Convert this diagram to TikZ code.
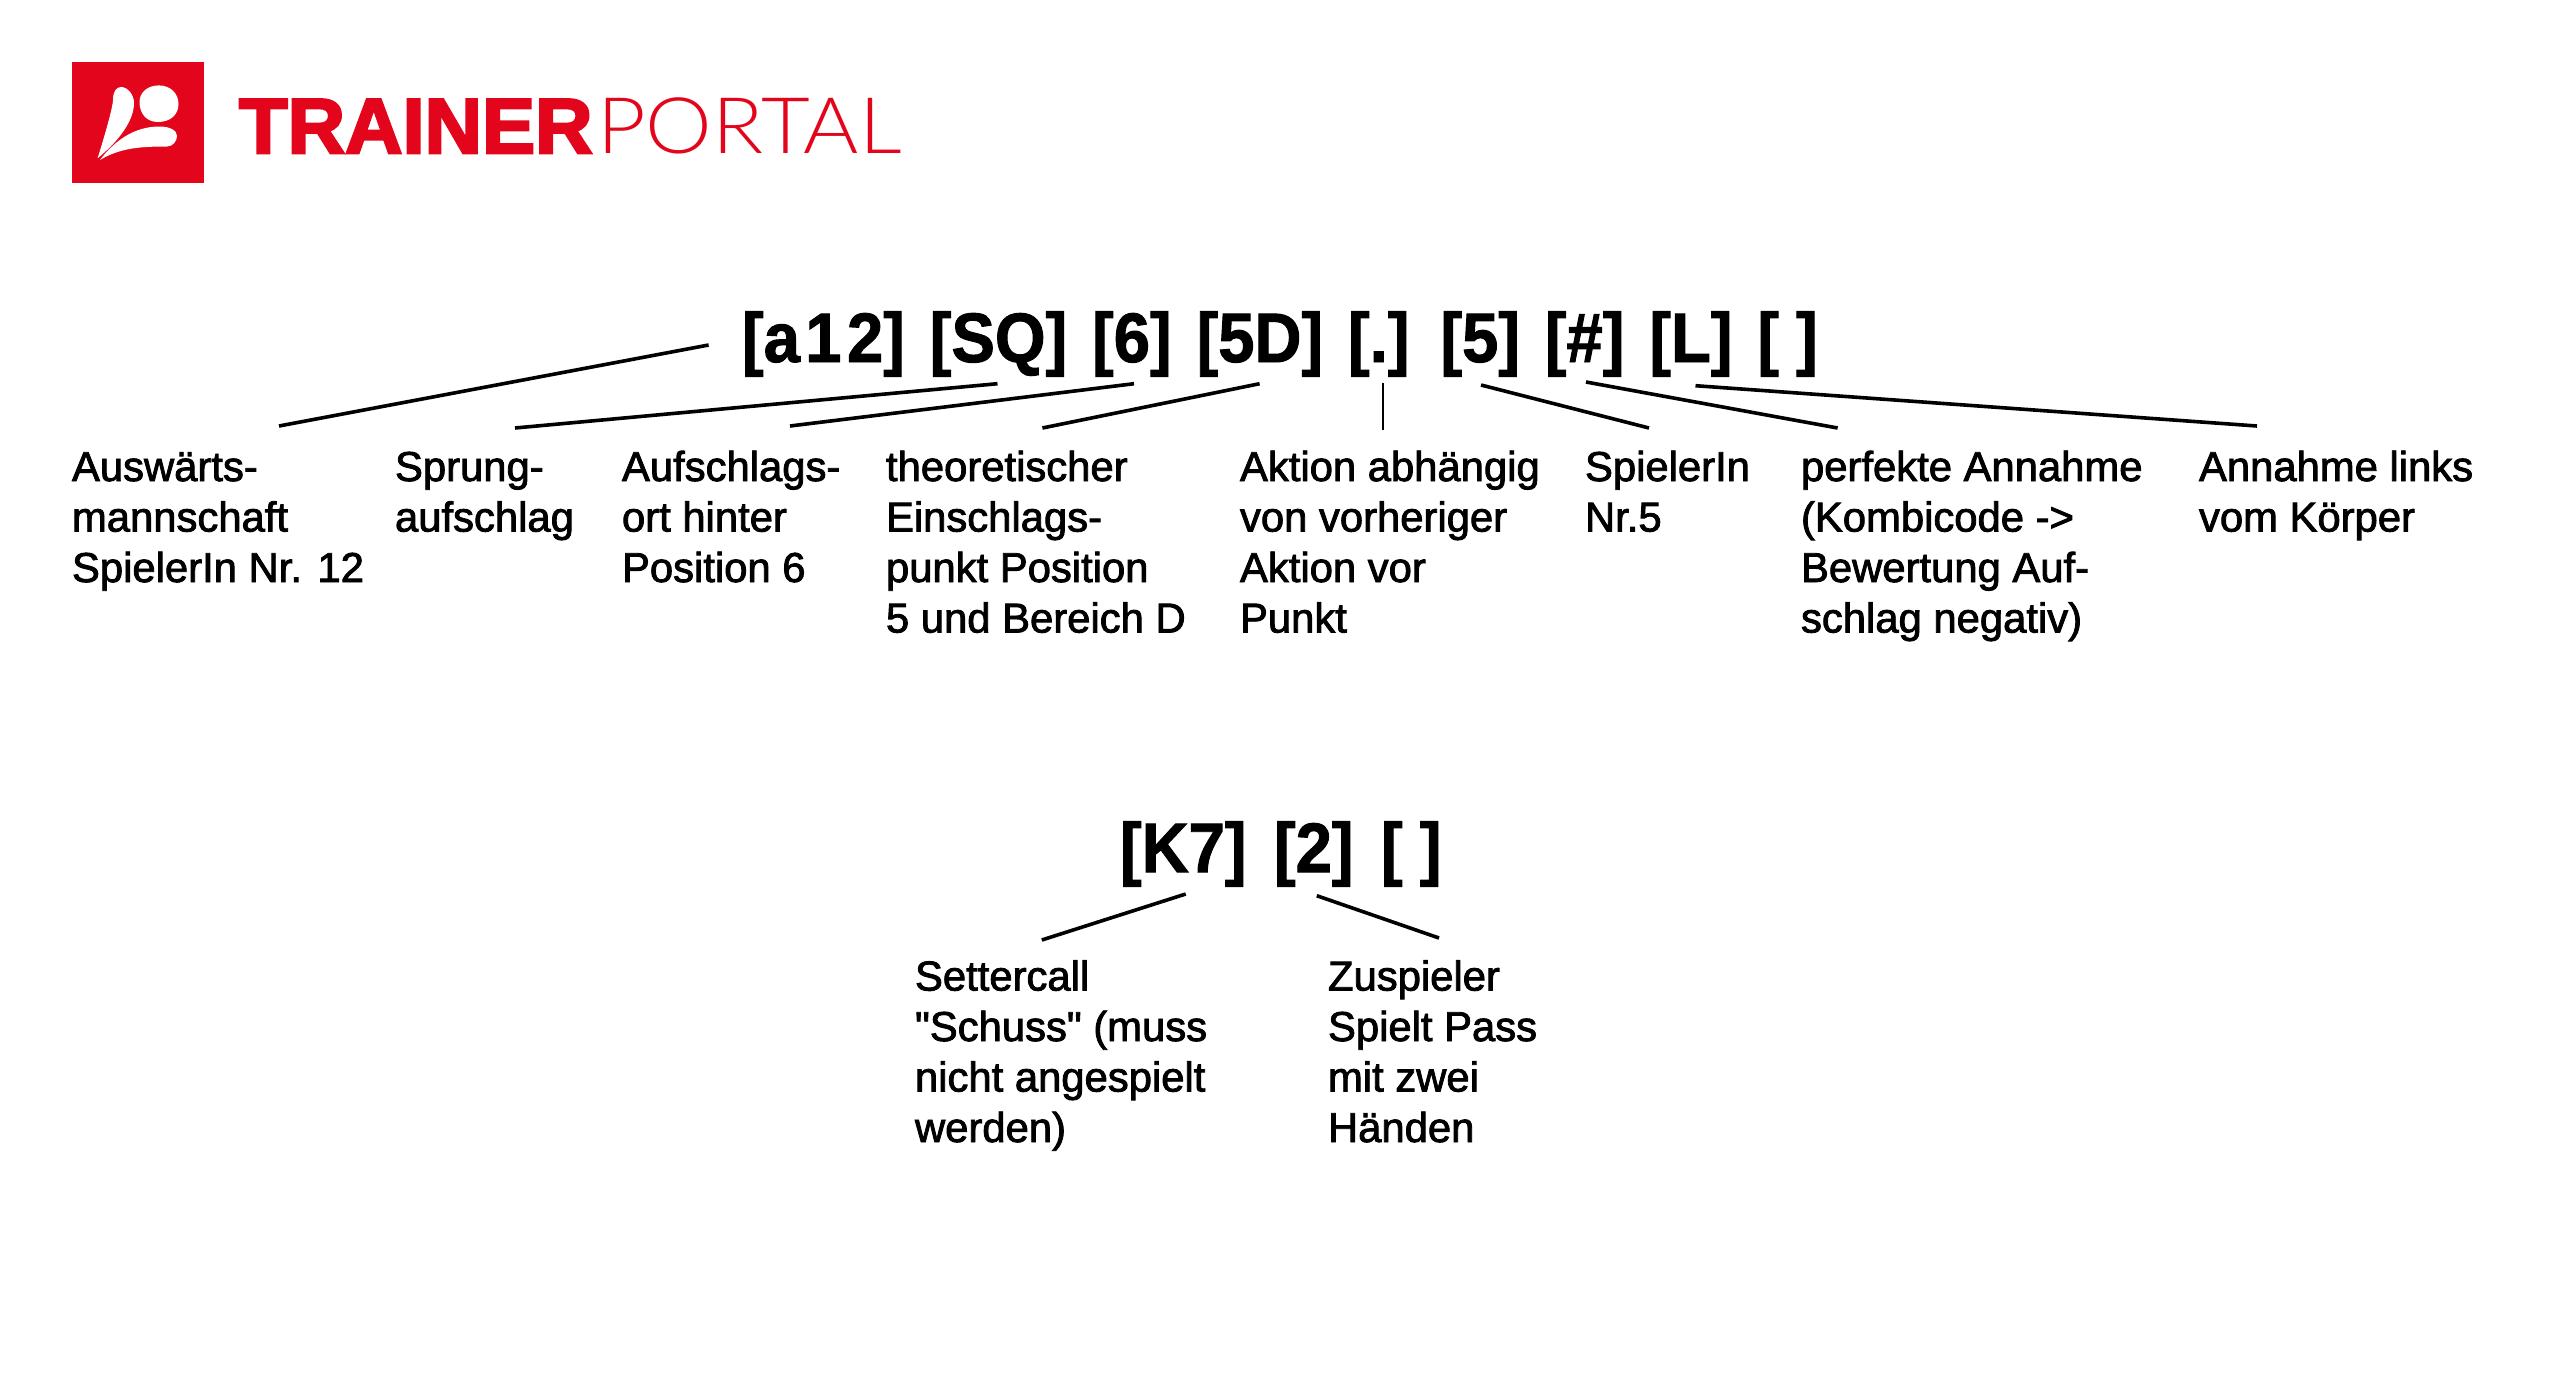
\documentclass[tikz,border=0pt]{standalone}
\usepackage{fontspec}
\setmainfont{Liberation Sans}
\newfontfamily\bodyfont[FakeBold=2.0]{Liberation Sans}
\newfontfamily\headfont[FakeStretch=0.93,FakeBold=1.4]{Liberation Sans Bold}
\newfontfamily\logoheavy[FakeBold=3.2,FakeStretch=1.02]{Liberation Sans Bold}
\newfontfamily\logolight[FakeStretch=1.08]{Lato Light}
\definecolor{brand}{HTML}{E3051B}
\newcommand\lns[1]{\begin{tabular}[t]{@{}l@{}}#1\end{tabular}}
\tikzset{
  lbl/.style={anchor=base west,inner sep=0pt,outer sep=0pt,font=\bodyfont\fontsize{41.8}{50.5}\selectfont,text=black},
  head/.style={anchor=base west,inner sep=0pt,outer sep=0pt,font=\headfont\fontsize{70}{70}\selectfont,text=black},
  lead/.style={draw=black,line width=3.6pt},
  leadthin/.style={draw=black,line width=2pt},
  logotxt/.style={anchor=base west,inner sep=0pt,outer sep=0pt,text=brand}
}
\begin{document}
\begin{tikzpicture}[x=1pt,y=-1pt]
\useasboundingbox (0,0) rectangle (2560,1398);
\fill[white] (0,0) rectangle (2560,1398);
% logo
\fill[brand] (72,62) rectangle (204,183);
\fill[white] (97.6,158.3) .. controls (108,125) and (113,105) .. (113,100) .. controls (113,92) and (116,87) .. (121,87) .. controls (128,87) and (134,95) .. (134,103) .. controls (134,120) and (120,140) .. (97.6,158.3) -- cycle;
\fill[white] (158.8,85.4) .. controls (170,85.4) and (178.5,93) .. (178.5,104) .. controls (178.5,115) and (170,122) .. (158,122) .. controls (146,122) and (139.5,113) .. (139.5,102) .. controls (139.5,92) and (148,85.4) .. (158.8,85.4) -- cycle;
\fill[white] (100,160) .. controls (115,140) and (135,126.5) .. (159.4,126.5) .. controls (171,126.5) and (177,131) .. (177,136) .. controls (177,141) and (173,146.5) .. (167,146.5) .. controls (140,146.5) and (120,148) .. (100,160) -- cycle;
\node[logotxt,font=\logoheavy\fontsize{78}{78}\selectfont] (trainer) at (239,153) {TRAINER};
\node[logotxt,font=\logolight\fontsize{78}{78}\selectfont] (portal) at (597,153) {PORTAL};
% headings
\node[head] (code1) at (742,362) {\spaceskip=24.9pt\relax [a\kern5.5pt 1\kern5.5pt 2] [SQ] [6] [5D] [.] [5] [\#] [L] {\spaceskip=17pt\relax [ ]}};
\node[head] (code2) at (1120,872) {\spaceskip=27.5pt\relax [K7] [2] {\spaceskip=17pt\relax [ ]}};
% labels
\node[lbl] (l1) at (72,481) {\lns{Auswärts-\\mannschaft\\SpielerIn Nr. 12}};
\node[lbl] (l2) at (395,481) {\lns{Sprung-\\aufschlag}};
\node[lbl] (l3) at (622,481) {\lns{Aufschlags-\\ort hinter\\Position 6}};
\node[lbl] (l4) at (886,481) {\lns{theoretischer\\Einschlags-\\punkt Position\\5 und Bereich D}};
\node[lbl] (l5) at (1240,481) {\lns{Aktion abhängig\\von vorheriger\\Aktion vor\\Punkt}};
\node[lbl] (l6) at (1585,481) {\lns{SpielerIn\\Nr.5}};
\node[lbl] (l7) at (1801,481) {\lns{perfekte Annahme\\(Kombicode ->\\Bewertung Auf-\\schlag negativ)}};
\node[lbl] (l8) at (2199,481) {\lns{Annahme links\\vom Körper}};
\node[lbl] (l9) at (915,990.5) {\lns{Settercall\\"Schuss" (muss\\nicht angespielt\\werden)}};
\node[lbl] (l10) at (1328,990.5) {\lns{Zuspieler\\Spielt Pass\\mit zwei\\Händen}};
% connector ends
\coordinate (a1) at (708.6,345);  \coordinate (b1) at (279,426);
\coordinate (a2) at (997.5,383.7);\coordinate (b2) at (515,428);
\coordinate (a3) at (1134,383.7); \coordinate (b3) at (790,426);
\coordinate (a4) at (1259.6,383.7);\coordinate (b4) at (1042.4,428);
\coordinate (a5) at (1383,382.7); \coordinate (b5) at (1383,430);
\coordinate (a6) at (1481,385);   \coordinate (b6) at (1649,428);
\coordinate (a7) at (1586,382);   \coordinate (b7) at (1837.6,428);
\coordinate (a8) at (1695.5,385.7);\coordinate (b8) at (2257,426);
\coordinate (a9) at (1185.7,894); \coordinate (b9) at (1041.8,940);
\coordinate (a10) at (1316.8,895.7);\coordinate (b10) at (1439,938);
\foreach \i in {1,2,3,4,6,7,8,9,10} {\draw[lead] (a\i) -- (b\i);}
\draw[leadthin] (a5) -- (b5);
\end{tikzpicture}
\end{document}
